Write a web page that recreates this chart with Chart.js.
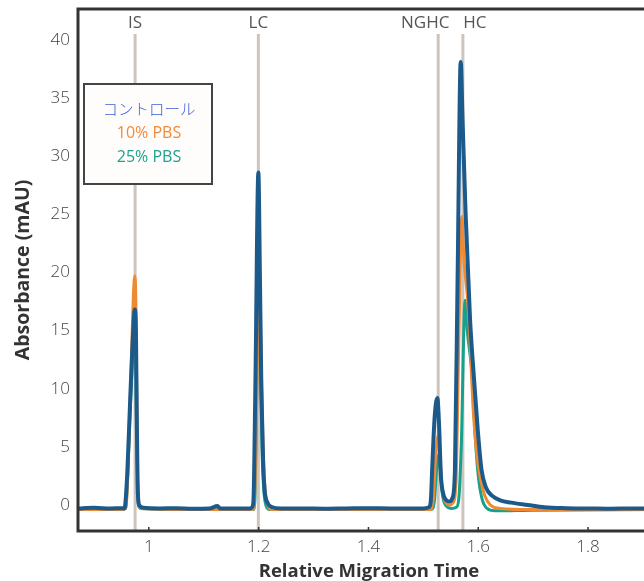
<!DOCTYPE html>
<html>
<head>
<meta charset="utf-8">
<script src="https://cdn.jsdelivr.net/npm/chart.js@4"></script>
<style>
  html, body { margin: 0; padding: 0; background: #fff; overflow: hidden; }
  #wrap { width: 664px; height: 581px; }
</style>
</head>
<body>
<div id="wrap"><canvas id="chart" width="664" height="581"></canvas></div>
<script>
    // 系列データ [相対移動時間, 吸光度]
    const controlData = [
        [0.870, -0.30], [0.900, -0.25], [0.930, -0.30], [0.950, -0.28], [0.955, -0.30],
        [0.957, 0.00], [0.961, 3.0], [0.966, 9.0], [0.970, 13.5], [0.9745, 16.8],
        [0.9765, 15.0], [0.978, 8.0], [0.9795, 2.0], [0.981, 0.3], [0.984, -0.1],
        [0.990, -0.25], [1.020, -0.30], [1.050, -0.28], [1.080, -0.32], [1.110, -0.30],
        [1.125, -0.10], [1.130, -0.30], [1.160, -0.30], [1.185, -0.30], [1.188, -0.20],
        [1.1905, 0.3], [1.194, 10.0], [1.1995, 28.6], [1.2025, 19.0], [1.205, 10.0],
        [1.208, 4.0], [1.211, 1.2], [1.215, 0.3], [1.225, -0.20], [1.240, -0.30],
        [1.280, -0.30], [1.320, -0.32], [1.360, -0.30], [1.400, -0.28], [1.440, -0.30],
        [1.480, -0.30], [1.500, -0.30], [1.510, -0.20], [1.5135, 0.3], [1.516, 3.0],
        [1.5205, 7.5], [1.5255, 9.2], [1.5285, 7.0], [1.532, 2.5], [1.536, 1.0],
        [1.542, 0.4], [1.548, 0.3], [1.553, 0.6], [1.5575, 3.0], [1.5625, 20.0],
        [1.568, 38.1], [1.5715, 33.0], [1.577, 25.0], [1.585, 16.0], [1.592, 11.0],
        [1.599, 6.5], [1.606, 3.0], [1.614, 1.5], [1.625, 0.8], [1.640, 0.4],
        [1.660, 0.2], [1.690, 0.0], [1.720, -0.20], [1.760, -0.28], [1.800, -0.30],
        [1.840, -0.32], [1.880, -0.30], [1.935, -0.30]
    ];
    const pbs10Data = [
        [0.870, -0.40], [0.950, -0.40], [0.957, -0.30], [0.959, 0.0], [0.966, 9.0],
        [0.9745, 19.7], [0.9765, 17.0], [0.979, 4.0], [0.981, 0.2], [0.985, -0.30],
        [1.100, -0.40], [1.188, -0.40], [1.1925, 0.5], [1.196, 8.0], [1.2013, 20.6],
        [1.204, 14.0], [1.207, 7.0], [1.210, 2.5], [1.214, 0.5], [1.222, -0.40],
        [1.400, -0.40], [1.512, -0.40], [1.518, 0.5], [1.522, 4.0], [1.5273, 6.0],
        [1.530, 4.5], [1.534, 1.5], [1.540, 0.3], [1.548, 0.0], [1.554, 0.2],
        [1.5595, 2.0], [1.5645, 14.0], [1.570, 24.8], [1.574, 21.0], [1.580, 18.0],
        [1.584, 15.0], [1.591, 8.0], [1.597, 4.5], [1.603, 2.5], [1.612, 0.8],
        [1.622, 0.0], [1.640, -0.30], [1.700, -0.40], [1.935, -0.40]
    ];
    const pbs25Data = [
        [0.870, -0.40], [0.950, -0.40], [0.958, -0.30], [0.966, 8.0], [0.9748, 15.5],
        [0.978, 6.0], [0.981, 0.0], [0.985, -0.30], [1.100, -0.40], [1.190, -0.40],
        [1.193, 0.3], [1.196, 8.0], [1.2000, 21.0], [1.203, 13.0], [1.206, 5.0],
        [1.209, 1.5], [1.213, 0.0], [1.220, -0.40], [1.400, -0.40], [1.514, -0.40],
        [1.520, 0.3], [1.524, 3.0], [1.528, 4.3], [1.531, 3.0], [1.535, 0.8],
        [1.542, -0.10], [1.552, -0.30], [1.560, -0.20], [1.5645, 0.5], [1.569, 5.0],
        [1.576, 17.6], [1.580, 15.0], [1.589, 11.0], [1.595, 5.5], [1.600, 2.5],
        [1.607, 0.5], [1.616, -0.30], [1.630, -0.50], [1.700, -0.45], [1.935, -0.40]
    ];

    const seriesNames = ['コントロール', '10% PBS', '25% PBS'];
    const seriesColors = ['#1d5a8c', '#ef8a33', '#17a08b'];
    const legendColors = ['#3a5cd6', '#f08a3c', '#20a090'];

    // ピーク位置(縦線)
    const peakLabels = ['IS', 'LC', 'NGHC', 'HC'];
    const peakPositions = [0.975, 1.1995, 1.527, 1.572];
    const labelShift = [0, 0, -13, 12];

    const xTicks = [1, 1.2, 1.4, 1.6, 1.8];

    const toPoints = (arr) => arr.map(p => ({ x: p[0], y: p[1] }));

    const customPlugin = {
        id: 'customAnnotations',
        beforeDatasetsDraw: (chart) => {
            const ctx = chart.ctx;
            const xScale = chart.scales.x;
            const area = chart.chartArea;

            // 縦線とラベル
            peakPositions.forEach((pos, i) => {
                const x = xScale.getPixelForValue(pos);
                ctx.save();
                ctx.beginPath();
                ctx.strokeStyle = '#cdc4be';
                ctx.lineWidth = 3;
                ctx.moveTo(x, 34);
                ctx.lineTo(x, area.bottom);
                ctx.stroke();
                ctx.restore();

                ctx.save();
                ctx.font = '17px "Open Sans"';
                ctx.fillStyle = '#555';
                ctx.textAlign = 'center';
                ctx.textBaseline = 'middle';
                ctx.fillText(peakLabels[i], x + labelShift[i], 23);
                ctx.restore();
            });
        },
        afterDraw: (chart) => {
            const ctx = chart.ctx;
            const xScale = chart.scales.x;
            const area = chart.chartArea;

            // 枠線
            ctx.save();
            ctx.strokeStyle = '#333';
            ctx.lineWidth = 3;
            ctx.beginPath();
            ctx.moveTo(area.right + 5, area.top);
            ctx.lineTo(area.left, area.top);
            ctx.lineTo(area.left, area.bottom);
            ctx.lineTo(area.right + 5, area.bottom);
            ctx.stroke();

            // x軸の内向き目盛り
            ctx.lineWidth = 1.5;
            xTicks.forEach((t) => {
                const x = xScale.getPixelForValue(t);
                ctx.beginPath();
                ctx.moveTo(x, area.bottom);
                ctx.lineTo(x, area.bottom - 4);
                ctx.stroke();
            });
            ctx.restore();

            // 凡例ボックス
            ctx.save();
            ctx.fillStyle = '#fffdfb';
            ctx.fillRect(84, 84, 128, 100);
            ctx.strokeStyle = '#444';
            ctx.lineWidth = 2;
            ctx.strokeRect(84, 84, 128, 100);
            ctx.textAlign = 'center';
            ctx.textBaseline = 'middle';
            seriesNames.forEach((name, i) => {
                ctx.font = i === 0 ? '300 15.5px "Noto Sans CJK JP"' : '16px "Open Sans"';
                ctx.fillStyle = legendColors[i];
                ctx.fillText(name, 149, 109 + i * 24);
            });
            ctx.restore();
        }
    };

    new Chart(document.getElementById('chart'), {
        type: 'line',
        data: {
            datasets: [
                { label: seriesNames[0], data: toPoints(controlData), borderColor: seriesColors[0], borderWidth: 4, order: 0 },
                { label: seriesNames[1], data: toPoints(pbs10Data), borderColor: seriesColors[1], borderWidth: 3, order: 1 },
                { label: seriesNames[2], data: toPoints(pbs25Data), borderColor: seriesColors[2], borderWidth: 3, order: 2 }
            ]
        },
        options: {
            responsive: false,
            animation: false,
            parsing: false,
            elements: {
                point: { radius: 0 },
                line: { cubicInterpolationMode: 'monotone', borderJoinStyle: 'round', borderCapStyle: 'round' }
            },
            plugins: {
                legend: { display: false },
                tooltip: { enabled: false }
            },
            layout: {
                padding: { top: 9, right: 4, left: 0, bottom: 0 }
            },
            scales: {
                x: {
                    type: 'linear',
                    min: 0.871,
                    max: 1.931,
                    afterFit: (axis) => { axis.height = 50; axis.paddingLeft = 0; axis.paddingRight = 0; },
                    grid: { display: false, drawTicks: false },
                    border: { display: false },
                    ticks: {
                        stepSize: 0.2,
                        includeBounds: false,
                        padding: 6,
                        color: '#444',
                        font: { family: 'Open Sans', size: 17, weight: '300' },
                        callback: (v) => {
                            const r = Math.round(v * 10) / 10;
                            return xTicks.includes(r) ? String(r) : '';
                        }
                    },
                    title: {
                        display: true,
                        text: 'Relative Migration Time',
                        color: '#333',
                        font: { family: 'Open Sans', size: 18.5, weight: 'bold' },
                        padding: { top: 0, bottom: -2 }
                    }
                },
                y: {
                    min: -2.24,
                    max: 42.65,
                    afterFit: (axis) => { axis.width = 78; axis.paddingTop = 0; axis.paddingBottom = 0; },
                    grid: { display: false, drawTicks: false },
                    border: { display: false },
                    ticks: {
                        stepSize: 5,
                        includeBounds: false,
                        padding: 8,
                        color: '#444',
                        font: { family: 'Open Sans', size: 17, weight: '300' }
                    },
                    title: {
                        display: true,
                        text: 'Absorbance (mAU)',
                        color: '#333',
                        font: { family: 'Open Sans', size: 19.5, weight: 'bold' },
                        padding: { top: 12, bottom: 0 }
                    }
                }
            }
        },
        plugins: [customPlugin]
    });
</script>
</body>
</html>
